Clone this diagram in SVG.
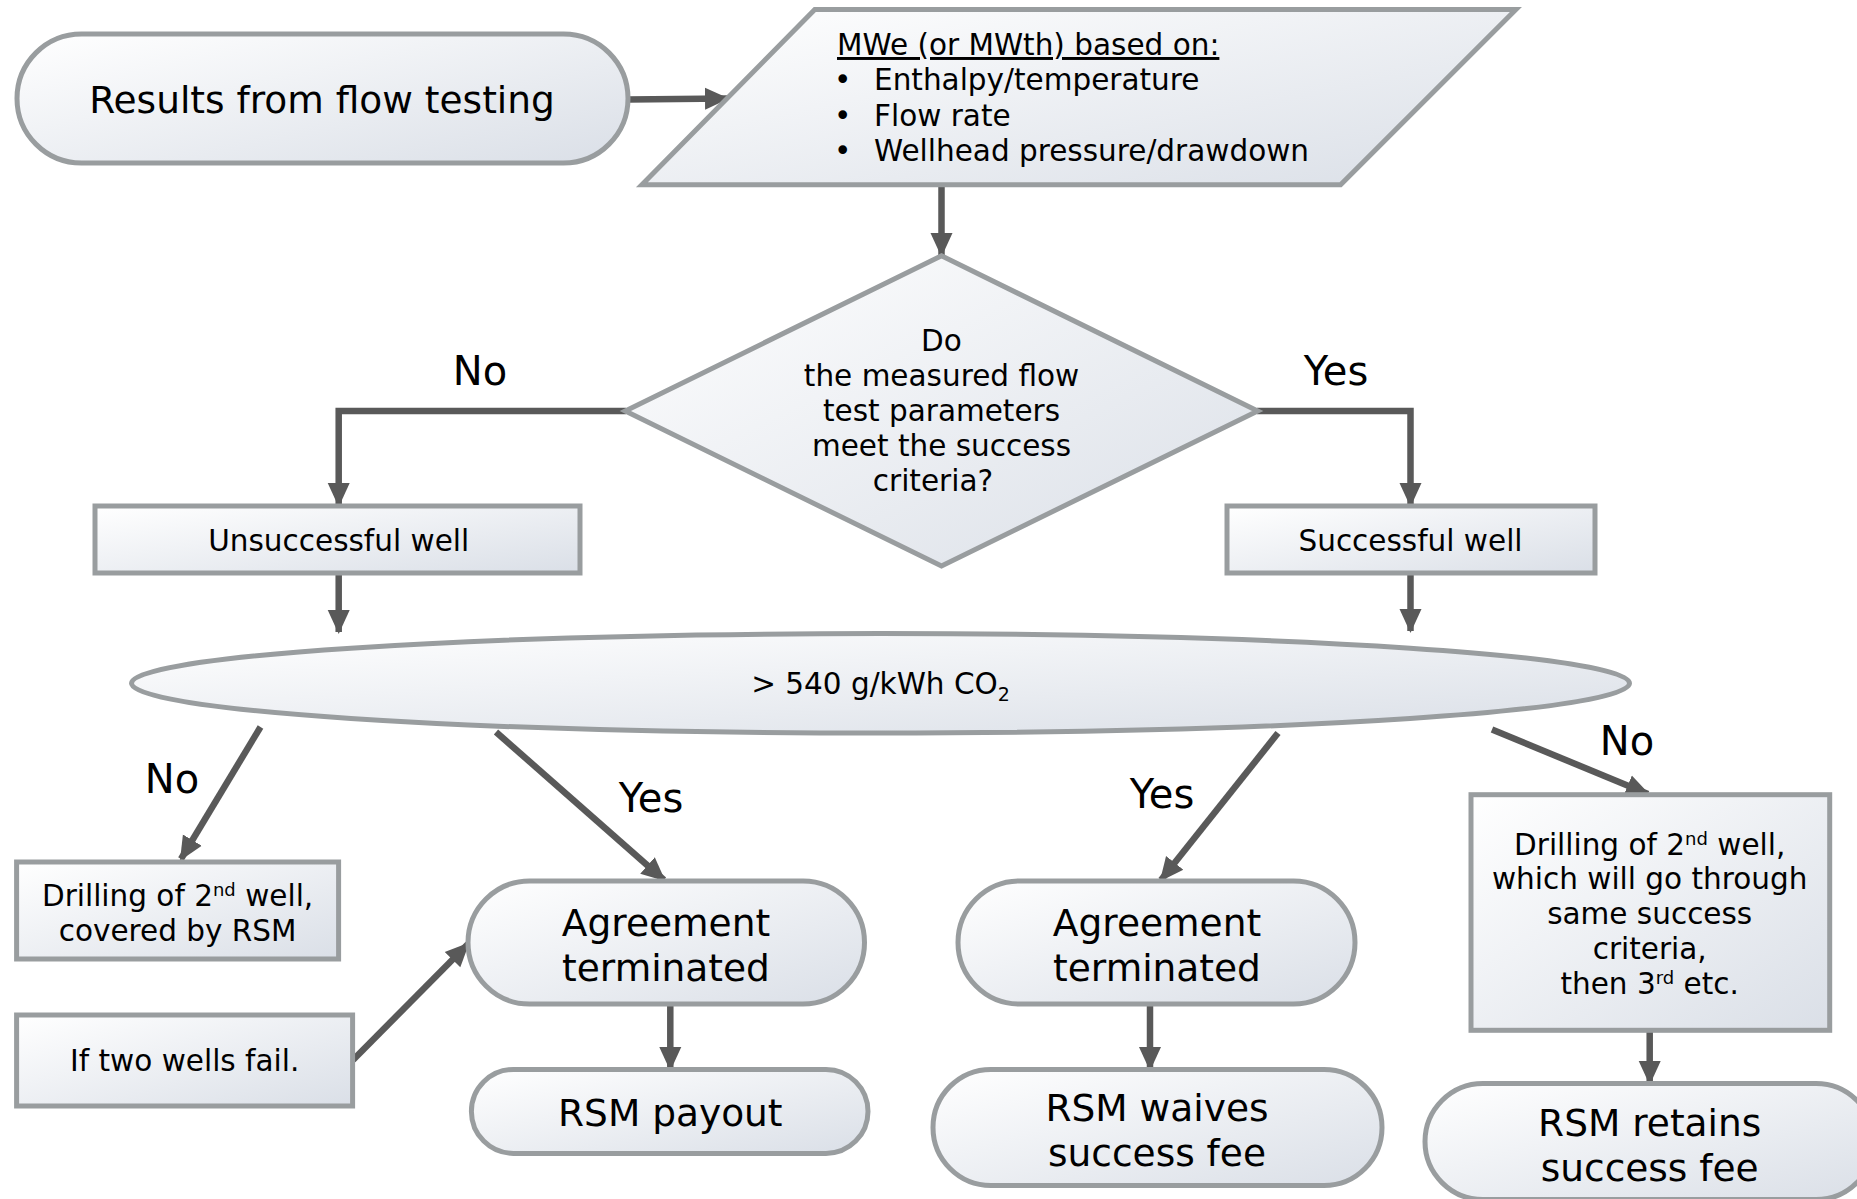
<svg xmlns="http://www.w3.org/2000/svg" width="1857" height="1199" viewBox="0 0 1857 1199">
<defs>
<linearGradient id="g" x1="0" y1="0" x2="1" y2="1">
<stop offset="0" stop-color="#ffffff"/>
<stop offset="1" stop-color="#dadfe7"/>
</linearGradient>
<marker id="ah" markerUnits="userSpaceOnUse" markerWidth="24" markerHeight="24" viewBox="0 0 24 24" refX="22" refY="12" orient="auto">
<path d="M0,1 L24,12 L0,23 z" fill="#595959"/>
</marker>
<style>
.n{fill:url(#g);stroke:#999d9f;stroke-width:5}
.t{font-family:"DejaVu Sans",Verdana,sans-serif;fill:#000;text-anchor:middle}
.s{font-size:29.5px}
.b{font-size:37.5px}
.l{font-size:40px}
.c{fill:none;stroke:#595959;stroke-width:6.5;marker-end:url(#ah)}
</style>
</defs>
<rect width="1857" height="1199" fill="#fff"/>

<g id="connectors">
<path class="c" d="M628,99.5 L727,98.5"/>
<path class="c" d="M941.5,185 L941.5,255"/>
<path class="c" d="M626,411 L338.7,411 L338.7,505"/>
<path class="c" d="M1257,411 L1410.5,411 L1410.5,505"/>
<path class="c" d="M338.7,573 L338.7,632"/>
<path class="c" d="M1410.5,573 L1410.5,631"/>
<path class="c" d="M260.5,727 L181,859"/>
<path class="c" d="M496,732 L664,880"/>
<path class="c" d="M1278,733 L1161,880"/>
<path class="c" d="M1492,729.5 L1648,794"/>
<path class="c" d="M353,1060 L468,944"/>
<path class="c" d="M670.3,1004 L670.3,1069"/>
<path class="c" d="M1150,1004 L1150,1069"/>
<path class="c" d="M1649.7,1030 L1649.7,1083"/>
</g>

<g id="labels">
<text class="t l" x="480" y="385">No</text>
<text class="t l" x="1336" y="385">Yes</text>
<text class="t l" x="172" y="793">No</text>
<text class="t l" x="651" y="812">Yes</text>
<text class="t l" x="1162" y="808">Yes</text>
<text class="t l" x="1627" y="755">No</text>
</g>

<g id="start">
<rect class="n" x="17" y="34" width="611" height="129" rx="64.5"/>
<text class="t b" x="322" y="113">Results from flow testing</text>
</g>

<g id="input">
<polygon class="n" points="814.8,9.5 1515.9,9.5 1340.6,184.7 641.9,184.7"/>
<text class="t s" x="837" y="55" style="text-anchor:start;text-decoration:underline">MWe (or MWth) based on:</text>
<text class="t s" x="834" y="90" style="text-anchor:start">•</text>
<text class="t s" x="874" y="90" style="text-anchor:start">Enthalpy/temperature</text>
<text class="t s" x="834" y="126" style="text-anchor:start">•</text>
<text class="t s" x="874" y="126" style="text-anchor:start">Flow rate</text>
<text class="t s" x="834" y="161" style="text-anchor:start">•</text>
<text class="t s" x="874" y="161" style="text-anchor:start">Wellhead pressure/drawdown</text>
</g>

<g id="decision">
<polygon class="n" points="941.5,255.8 1257.7,411 941.5,566 625.3,411"/>
<text class="t s" x="941.5" y="351">Do</text>
<text class="t s" x="941.5" y="386">the measured flow</text>
<text class="t s" x="941.5" y="421">test parameters</text>
<text class="t s" x="941.5" y="456">meet the success</text>
<text class="t s" x="933" y="491">criteria?</text>
</g>

<g id="unsuccessful">
<rect class="n" x="95" y="506" width="485" height="67"/>
<text class="t s" x="338.7" y="551">Unsuccessful well</text>
</g>

<g id="successful">
<rect class="n" x="1227" y="506" width="368" height="67"/>
<text class="t s" x="1410.5" y="551">Successful well</text>
</g>

<g id="co2">
<ellipse class="n" cx="880.5" cy="683.3" rx="749" ry="49.7"/>
<text class="t s" x="880.5" y="694">&gt; 540 g/kWh CO<tspan dy="7" font-size="19">2</tspan></text>
</g>

<g id="drill2-left">
<rect class="n" x="16.6" y="862" width="322" height="97"/>
<text class="t s" x="177.6" y="906">Drilling of 2<tspan dy="-10" font-size="18">nd</tspan><tspan dy="10"> well,</tspan></text>
<text class="t s" x="177.6" y="941">covered by RSM</text>
</g>

<g id="two-wells">
<rect class="n" x="16.6" y="1015" width="336" height="91"/>
<text class="t s" x="184.7" y="1071">If two wells fail.</text>
</g>

<g id="terminated-left">
<rect class="n" x="468" y="881" width="396.5" height="123" rx="61.5"/>
<text class="t b" x="666" y="936">Agreement</text>
<text class="t b" x="666" y="981">terminated</text>
</g>

<g id="payout">
<rect class="n" x="471.4" y="1069.4" width="396.6" height="84" rx="42"/>
<text class="t b" x="670.3" y="1126">RSM payout</text>
</g>

<g id="terminated-right">
<rect class="n" x="958" y="881" width="397" height="123" rx="61.5"/>
<text class="t b" x="1157" y="936">Agreement</text>
<text class="t b" x="1157" y="981">terminated</text>
</g>

<g id="waives">
<rect class="n" x="933" y="1069.4" width="449" height="116" rx="58"/>
<text class="t b" x="1157" y="1121">RSM waives</text>
<text class="t b" x="1157" y="1166">success fee</text>
</g>

<g id="drill2-right">
<rect class="n" x="1471" y="794.7" width="358.7" height="235.6"/>
<text class="t s" x="1649.7" y="855">Drilling of 2<tspan dy="-10" font-size="18">nd</tspan><tspan dy="10"> well,</tspan></text>
<text class="t s" x="1649.7" y="889">which will go through</text>
<text class="t s" x="1649.7" y="924">same success</text>
<text class="t s" x="1649.7" y="959">criteria,</text>
<text class="t s" x="1649.7" y="994">then 3<tspan dy="-10" font-size="18">rd</tspan><tspan dy="10"> etc.</tspan></text>
</g>

<g id="retains">
<rect class="n" x="1425" y="1083.6" width="449" height="116" rx="58"/>
<text class="t b" x="1649.7" y="1136">RSM retains</text>
<text class="t b" x="1649.7" y="1181">success fee</text>
</g>
</svg>
